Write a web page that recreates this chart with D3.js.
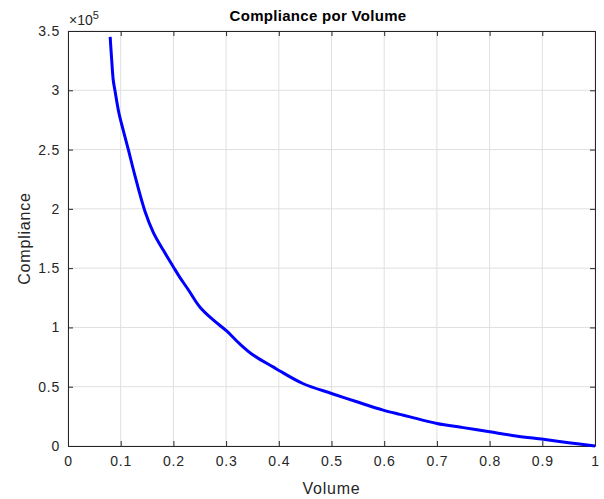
<!DOCTYPE html>
<html>
<head>
<meta charset="utf-8">
<script src="https://cdn.jsdelivr.net/npm/d3@7"></script>
<style>
    body { margin: 0; background: #fff; }
    svg { font-family: "Liberation Sans", Arial, sans-serif; }
</style>
</head>
<body>
<svg width="604" height="499"></svg>
<script>
// volume vs compliance (x 1e5)
var volume = [0.080, 0.083, 0.086, 0.089, 0.097, 0.105, 0.1145, 0.127, 0.146, 0.162,
    0.181, 0.200, 0.2125, 0.228, 0.2505, 0.275, 0.301, 0.325, 0.352, 0.390,
    0.402, 0.4466, 0.500, 0.548, 0.598, 0.630, 0.649, 0.700, 0.750,
    0.800, 0.850, 0.902, 0.950, 1.000]
var compliance = [3.45, 3.25, 3.08, 3.0, 2.8, 2.66, 2.50, 2.28, 1.98, 1.80,
    1.65, 1.51, 1.42, 1.32, 1.17, 1.065, 0.97, 0.865, 0.765, 0.665,
    0.633, 0.525, 0.443, 0.373, 0.303, 0.267, 0.246, 0.19, 0.155,
    0.12, 0.085, 0.056, 0.028, 0.0]
var xTicks = [0, 0.1, 0.2, 0.3, 0.4, 0.5, 0.6, 0.7, 0.8, 0.9, 1]
var yTicks = [0, 0.5, 1, 1.5, 2, 2.5, 3, 3.5]

var svg = d3.select('svg')
var m = { left: 68, right: 9, top: 31, bottom: 53 }
var w = 604 - m.left - m.right,
    h = 499 - m.top - m.bottom

var x = d3.scaleLinear().domain([0, 1]).range([0, w])
var y = d3.scaleLinear().domain([0, 3.5]).range([h, 0])

var g = svg.append('g').attr('transform', 'translate(' + m.left + ',' + m.top + ')')

// grid
g.selectAll('.gx').data(xTicks).enter().append('line')
    .attr('x1', d => x(d)).attr('x2', d => x(d))
    .attr('y1', 0).attr('y2', h)
    .style('stroke', '#dfdfdf').style('stroke-width', 1)
g.selectAll('.gy').data(yTicks).enter().append('line')
    .attr('y1', d => y(d)).attr('y2', d => y(d))
    .attr('x1', 0).attr('x2', w)
    .style('stroke', '#dfdfdf').style('stroke-width', 1)

// axes with inward ticks
var fmt = d => d3.format('~g')(d)
var ax = g.append('g').attr('transform', 'translate(0,' + h + ')')
    .call(d3.axisBottom(x).tickValues(xTicks).tickFormat(fmt).tickSizeInner(-5).tickSizeOuter(0).tickPadding(10))
var ay = g.append('g')
    .call(d3.axisLeft(y).tickValues(yTicks).tickFormat(fmt).tickSizeInner(-5).tickSizeOuter(0).tickPadding(8))
var axt = g.append('g')
    .call(d3.axisTop(x).tickValues(xTicks).tickFormat('').tickSizeInner(-5).tickSizeOuter(0))
var ayr = g.append('g').attr('transform', 'translate(' + w + ',0)')
    .call(d3.axisRight(y).tickValues(yTicks).tickFormat('').tickSizeInner(-5).tickSizeOuter(0))

;[ax, ay, axt, ayr].forEach(a => {
    a.selectAll('path').style('stroke', '#262626')
    a.selectAll('line').style('stroke', '#262626')
    a.selectAll('text').style('fill', '#262626').style('font-size', '14px').style('letter-spacing', '0.8px')
})

// curve
var line = d3.line()
    .x((d, i) => x(volume[i]))
    .y(d => y(d))
    .curve(d3.curveCatmullRom.alpha(0.5))

g.append('path')
    .datum(compliance)
    .attr('d', line)
    .style('fill', 'none')
    .style('stroke', '#0000ff')
    .style('stroke-width', 3)

// labels
svg.append('text')
    .attr('x', 318).attr('y', 21)
    .attr('text-anchor', 'middle')
    .style('font-size', '15px').style('font-weight', 'bold').style('fill', '#000')
    .style('letter-spacing', '0.3px')
    .text('Compliance por Volume')

svg.append('text')
    .attr('x', m.left + w / 2).attr('y', 494)
    .attr('text-anchor', 'middle')
    .style('font-size', '16px').style('fill', '#262626').style('letter-spacing', '0.8px')
    .text('Volume')

svg.append('text')
    .attr('transform', 'translate(30,' + (m.top + h / 2) + ') rotate(-90)')
    .attr('text-anchor', 'middle')
    .style('font-size', '16px').style('fill', '#262626').style('letter-spacing', '0.8px')
    .text('Compliance')

var ex = svg.append('text')
    .attr('x', 69).attr('y', 25)
    .style('font-size', '14px').style('fill', '#262626')
ex.append('tspan').text('\u00d710')
ex.append('tspan').attr('dy', -6).style('font-size', '11px').text('5')
</script>
</body>
</html>
